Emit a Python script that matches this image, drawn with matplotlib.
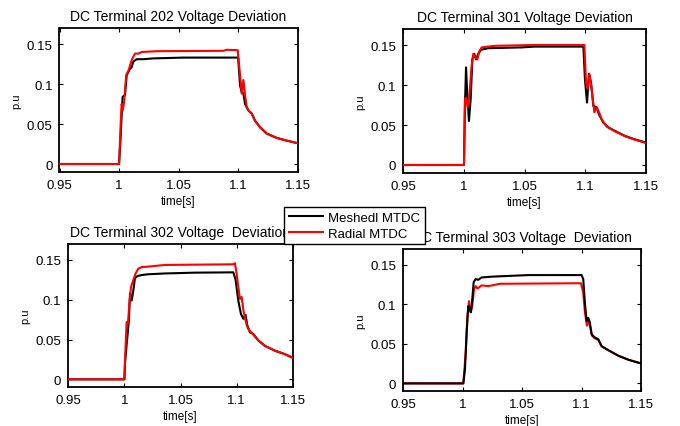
import matplotlib
matplotlib.use("Agg")
import matplotlib.pyplot as plt
from matplotlib.lines import Line2D

plt.rcParams['font.family'] = ['Liberation Sans', 'DejaVu Sans']

# ---------------- data ----------------
titles = ["DC Terminal 202 Voltage Deviation", "DC Terminal 301 Voltage Deviation",
          "DC Terminal 302 Voltage  Deviation", "DC Terminal 303 Voltage  Deviation"]
series_names = ["Meshedl MTDC", "Radial MTDC"]
xticks = [0.95, 1.0, 1.05, 1.1, 1.15]
xtick_labels = ["0.95", "1", "1.05", "1.1", "1.15"]
yticks = [0, 0.05, 0.1, 0.15]
ytick_labels = ["0", "0.05", "0.1", "0.15"]

t202_mesh = [0.95, 1.0, 1.0012, 1.0022, 1.003, 1.005, 1.0064, 1.0092, 1.0106, 1.012, 1.0148, 1.0204,
             1.0288, 1.054, 1.1, 1.1016, 1.103, 1.1044, 1.1058, 1.1086, 1.1114, 1.1142, 1.1184, 1.124,
             1.1324, 1.1408, 1.15]
v202_mesh = [0, 0, 0.03, 0.061, 0.084, 0.086, 0.111, 0.119, 0.121, 0.128, 0.131, 0.131,
             0.132, 0.133, 0.133, 0.098, 0.090, 0.088, 0.075, 0.067, 0.063, 0.054, 0.046, 0.038,
             0.0326, 0.0292, 0.026]
t202_rad = [0.95, 1.0, 1.0014, 1.0022, 1.003, 1.0042, 1.006, 1.008, 1.0106, 1.0134, 1.0162, 1.019,
            1.0316, 1.0876, 1.0904, 1.0996, 1.1016, 1.103, 1.1044, 1.1058, 1.1072, 1.1086, 1.1114,
            1.1142, 1.1184, 1.124, 1.1324, 1.1408, 1.15]
v202_rad = [0, 0, 0.052, 0.075, 0.067, 0.077, 0.111, 0.117, 0.130, 0.138, 0.138, 0.140,
            0.141, 0.1415, 0.1428, 0.1423, 0.111, 0.088, 0.105, 0.086, 0.071, 0.067, 0.063,
            0.054, 0.046, 0.038, 0.0326, 0.0292, 0.026]

t301_mesh = [0.95, 1.0, 1.0008, 1.0017, 1.0025, 1.0041, 1.0055, 1.0069, 1.0085, 1.0099, 1.0118, 1.014,
             1.02, 1.0475, 1.0585, 1.0984, 1.0997, 1.1014, 1.103, 1.1047, 1.1066, 1.1094, 1.1113,
             1.1148, 1.119, 1.1245, 1.1327, 1.141, 1.15]
v301_mesh = [0, 0, 0.074, 0.122, 0.095, 0.055, 0.082, 0.132, 0.139, 0.132, 0.139, 0.144,
             0.146, 0.147, 0.148, 0.148, 0.107, 0.078, 0.114, 0.103, 0.074, 0.072, 0.063,
             0.053, 0.047, 0.0425, 0.0363, 0.032, 0.028]
t301_rad = [0.95, 1.0, 1.0008, 1.0017, 1.003, 1.0044, 1.0063, 1.0077, 1.0096, 1.011, 1.0126, 1.0146,
            1.0256, 1.0585, 1.0992, 1.1006, 1.102, 1.1033, 1.1052, 1.1074, 1.1094, 1.1113, 1.1135,
            1.1176, 1.1245, 1.1327, 1.141, 1.15]
v301_rad = [0, 0, 0.082, 0.084, 0.072, 0.086, 0.124, 0.139, 0.134, 0.132, 0.142, 0.147,
            0.149, 0.150, 0.150, 0.103, 0.095, 0.114, 0.095, 0.066, 0.072, 0.066, 0.057,
            0.048, 0.042, 0.036, 0.0315, 0.0275]

t302_mesh = [0.95, 1.0, 1.0005, 1.002, 1.004, 1.005, 1.0065, 1.008, 1.0094, 1.0109, 1.0124, 1.0154,
             1.0213, 1.0362, 1.0629, 1.0971, 1.0991, 1.1015, 1.1039, 1.106, 1.108, 1.1095, 1.1119,
             1.1149, 1.1193, 1.1253, 1.1342, 1.1431, 1.15]
v302_mesh = [0, 0, 0.019, 0.044, 0.074, 0.108, 0.099, 0.112, 0.127, 0.129, 0.130, 0.131,
             0.132, 0.133, 0.134, 0.1344, 0.125, 0.099, 0.082, 0.076, 0.081, 0.068, 0.059,
             0.057, 0.049, 0.042, 0.036, 0.0316, 0.027]
t302_rad = [0.95, 1.0, 1.0005, 1.002, 1.0032, 1.0044, 1.0059, 1.008, 1.01, 1.0124, 1.0154, 1.0213,
            1.0362, 1.0971, 1.0985, 1.1, 1.1015, 1.103, 1.1045, 1.106, 1.108, 1.109, 1.1104,
            1.1149, 1.1193, 1.1253, 1.1342, 1.1431, 1.15]
v302_rad = [0, 0, 0.023, 0.072, 0.070, 0.095, 0.116, 0.125, 0.133, 0.139, 0.141, 0.1416,
            0.1437, 0.1445, 0.1458, 0.133, 0.116, 0.101, 0.1035, 0.087, 0.074, 0.068, 0.0633,
            0.056, 0.049, 0.042, 0.036, 0.0316, 0.027]

t303_mesh = [0.95, 1.0005, 1.0019, 1.0033, 1.0047, 1.0058, 1.0069, 1.008, 1.0092, 1.0109, 1.0131,
             1.0159, 1.0243, 1.0552, 1.1, 1.1014, 1.1028, 1.1042, 1.1056, 1.107, 1.1084, 1.1112,
             1.114, 1.1169, 1.1225, 1.1309, 1.1393, 1.15]
v303_mesh = [0, 0, 0.018, 0.064, 0.098, 0.094, 0.090, 0.106, 0.128, 0.132, 0.131,
             0.134, 0.135, 0.137, 0.137, 0.132, 0.102, 0.079, 0.083, 0.077, 0.062, 0.058,
             0.056, 0.047, 0.042, 0.035, 0.030, 0.0252]
t303_rad = [0.95, 1.0005, 1.0025, 1.0039, 1.0053, 1.0067, 1.008, 1.0095, 1.0109, 1.0125, 1.0159,
            1.0215, 1.0313, 1.0995, 1.1014, 1.1028, 1.1045, 1.1056, 1.107, 1.109, 1.1112, 1.114,
            1.1169, 1.1225, 1.1309, 1.1393, 1.15]
v303_rad = [0, 0, 0.039, 0.085, 0.104, 0.090, 0.098, 0.119, 0.123, 0.120, 0.124,
            0.123, 0.126, 0.1267, 0.115, 0.090, 0.073, 0.079, 0.073, 0.060, 0.057, 0.055,
            0.047, 0.042, 0.035, 0.030, 0.0252]

mesh_data = [(t202_mesh, v202_mesh), (t301_mesh, v301_mesh), (t302_mesh, v302_mesh), (t303_mesh, v303_mesh)]
rad_data = [(t202_rad, v202_rad), (t301_rad, v301_rad), (t302_rad, v302_rad), (t303_rad, v303_rad)]
black_on_top = [False, False, False, True]

# ---------------- layout ----------------
W, H = 680, 427
fig = plt.figure(figsize=(W / 100, H / 100), dpi=100)

# axes boxes in pixels: left, top, right, bottom
boxes = [(59.5, 29, 297.7, 173), (403.3, 30, 646, 174),
         (68.3, 245, 292.7, 388.3), (403.3, 250, 641, 392.3)]

for i, (l, t, r, b) in enumerate(boxes):
    ax = fig.add_axes([l / W, (H - b) / H, (r - l) / W, (b - t) / H])
    zm, zr = (3, 2) if black_on_top[i] else (2, 3)
    ax.plot(*mesh_data[i], color='black', lw=1.5, zorder=zm)
    ax.plot(*rad_data[i], color='red', lw=1.5, zorder=zr)
    ax.set_xlim(0.95, 1.15)
    ax.set_ylim(-0.01, 0.17)
    ax.set_xticks(xticks)
    ax.set_xticklabels(xtick_labels)
    ax.set_yticks(yticks)
    ax.set_yticklabels(ytick_labels)
    ax.tick_params(direction='in', top=True, right=True, length=3, width=0.8,
                   labelsize=9.5, pad=5)
    for s in ax.spines.values():
        s.set_linewidth(1.3)
    ax.set_title(titles[i], fontsize=10, pad=6)
    ax.set_xlabel("time[s]", fontsize=8.5, labelpad=3)
    ax.set_ylabel("p.u", fontsize=8, labelpad=4)

handles = [Line2D([], [], color='black', lw=1.5), Line2D([], [], color='red', lw=1.5)]
leg = fig.legend(handles, series_names, loc='upper left',
                 bbox_to_anchor=(284 / W, (H - 207.7) / H), borderaxespad=0,
                 fontsize=9.5, fancybox=False, framealpha=1, edgecolor='black',
                 handlelength=2.6, handletextpad=0.4, labelspacing=0.3, borderpad=0.35)
leg.get_frame().set_linewidth(1.0)

fig.savefig("out.png", dpi=100)
